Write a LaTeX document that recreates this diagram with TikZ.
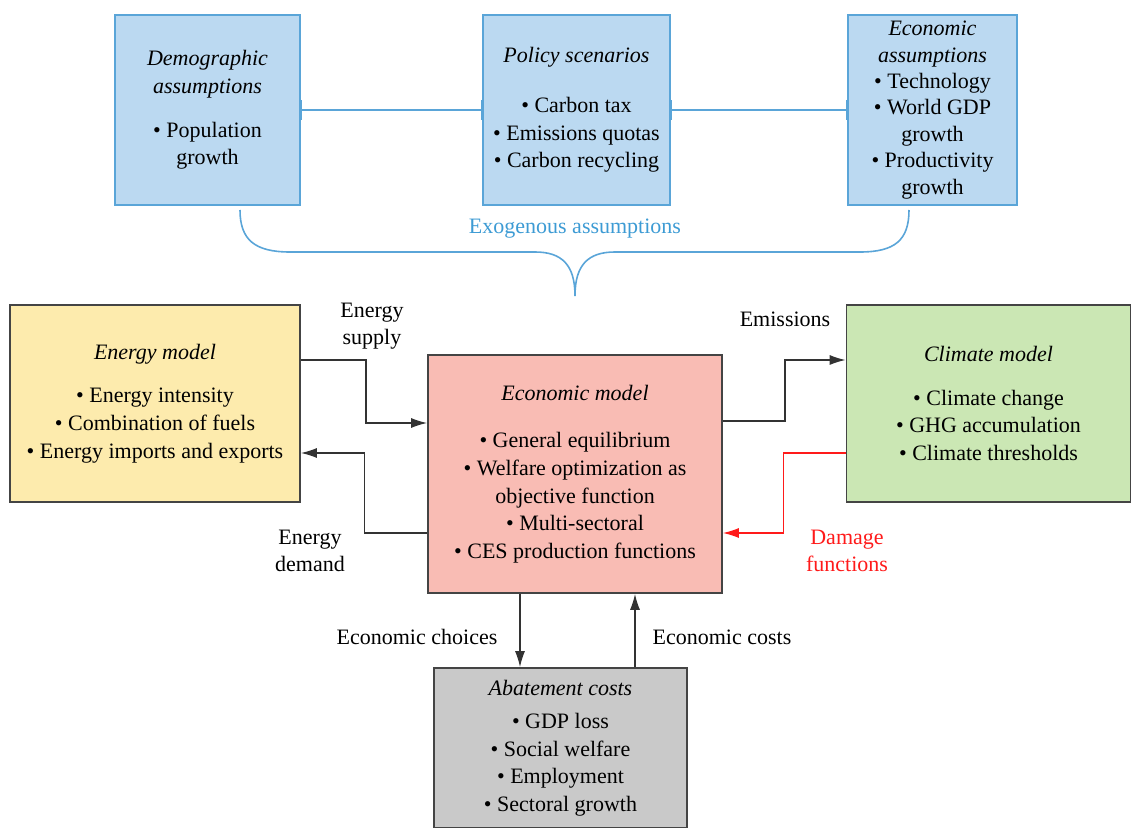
\documentclass[tikz,border=0pt]{standalone}
\usepackage{fontspec}
\setmainfont{Liberation Serif}
\usetikzlibrary{arrows.meta,positioning}
\definecolor{asmfill}{HTML}{BBD9F1}
\definecolor{asmline}{HTML}{5AA5D8}
\definecolor{asmtext}{HTML}{3D9BD4}
\definecolor{enfill}{HTML}{FDEBAD}
\definecolor{ecfill}{HTML}{F9BCB4}
\definecolor{clfill}{HTML}{CBE7B4}
\definecolor{abfill}{HTML}{C9C9C9}
\definecolor{boxline}{HTML}{444444}
\definecolor{dmgred}{HTML}{FF1A1A}

\begin{document}
\begin{tikzpicture}[x=0.5pt, y=-0.5pt,
        every node/.style={font=\fontsize{11}{13.8}\selectfont},
        asm/.style={draw=asmline, fill=asmfill, line width=0.8pt, minimum height=95pt, align=center, inner sep=1pt},
        model/.style={draw=boxline, line width=0.8pt, minimum height=98.5pt, align=center, inner sep=1pt},
        lbl/.style={align=center, inner sep=0pt},
        arrow/.style={-{Latex[length=8pt,width=5pt]}, line width=0.7pt, draw=black!80},
        link/.style={{Bar[width=10pt]}-{Bar[width=10pt]}, draw=asmline, line width=0.8pt}
    ]
    \useasboundingbox (0,0) rectangle (1131,828);
    % exogenous assumptions
    \node[asm, minimum width=92.5pt] (demo) at (207.5,110) {\textit{Demographic}\\\textit{assumptions}\\[8pt]\textbullet{} Population\\growth};
    \node[asm, minimum width=93.5pt] (policy) at (576.5,110) {\textit{Policy scenarios}\\[11pt]\textbullet{} Carbon tax\\\textbullet{} Emissions quotas\\\textbullet{} Carbon recycling};
    \node[asm, minimum width=84.5pt, font=\fontsize{11}{13.2}\selectfont] (econa) at (932.5,110) {\textit{Economic}\\\textit{assumptions}\\\textbullet{} Technology\\\textbullet{} World GDP\\growth\\\textbullet{} Productivity\\growth};
    \draw[link] (demo) -- (policy);
    \draw[link] (policy) -- (econa);
    % brace
    \coordinate (bl) at (240,210);
    \coordinate (br) at (909,210);
    \coordinate (tip) at (575,296);
    \draw[asmline, line width=0.8pt] (bl) .. controls (240,240) and (255,252) .. (290,252) -- (535,252)
        .. controls (562,252) and (575,265) .. (tip)
        .. controls (575,265) and (588,252) .. (615,252) -- (860,252)
        .. controls (895,252) and (909,240) .. (br);
    \node[lbl, text=asmtext] (exo) at (575,229) {Exogenous assumptions};
    % models
    \node[model, fill=enfill, minimum width=145pt] (energy) at (155,403.5) {\textit{Energy model}\\[8pt]\textbullet{} Energy intensity\\\textbullet{} Combination of fuels\\\textbullet{} Energy imports and exports};
    \node[model, fill=ecfill, minimum width=147pt, minimum height=119pt] (econ) at (575,474) {\textit{Economic model}\\[10pt]\textbullet{} General equilibrium\\\textbullet{} Welfare optimization as\\objective function\\\textbullet{} Multi-sectoral\\\textbullet{} CES production functions};
    \node[model, fill=clfill, minimum width=142pt] (climate) at (988.5,403.5) {\textit{Climate model}\\[8pt]\textbullet{} Climate change\\\textbullet{} GHG accumulation\\\textbullet{} Climate thresholds};
    \node[model, fill=abfill, minimum width=126.5pt, minimum height=80pt] (abate) at (560.5,748) {\textit{Abatement costs}\\[3pt]\textbullet{} GDP loss\\\textbullet{} Social welfare\\\textbullet{} Employment\\\textbullet{} Sectoral growth};
    % flows
    \draw[arrow] ([yshift=21.75pt]energy.east) -- ++(65,0) |- ([yshift=25.5pt]econ.west);
    \draw[arrow] ([yshift=-29.5pt]econ.west) -- ++(-63,0) |- ([yshift=-24.75pt]energy.east);
    \draw[arrow] ([yshift=26.5pt]econ.east) -- ++(62,0) |- ([yshift=21.75pt]climate.west);
    \draw[arrow, draw=dmgred, -{Latex[length=8pt,width=5pt,fill=dmgred]}] ([yshift=-24.75pt]climate.west) -- ++(-62,0) |- ([yshift=-29.5pt]econ.east);
    \draw[arrow] ([xshift=-27.5pt]econ.south) -- ([xshift=-27.5pt]econ.south |- abate.north);
    \draw[arrow] ([xshift=30pt]econ.south |- abate.north) -- ([xshift=30pt]econ.south);
    % flow labels
    \node[lbl] (supply) at (372,326) {Energy\\supply};
    \node[lbl] (demand) at (310,551) {Energy\\demand};
    \node[lbl] (emis) at (785,319) {Emissions};
    \node[lbl, text=dmgred] (damage) at (847,551) {Damage\\functions};
    \node[lbl] (choices) at (417,637) {Economic choices};
    \node[lbl] (costs) at (722,637) {Economic costs};
\end{tikzpicture}
\end{document}
